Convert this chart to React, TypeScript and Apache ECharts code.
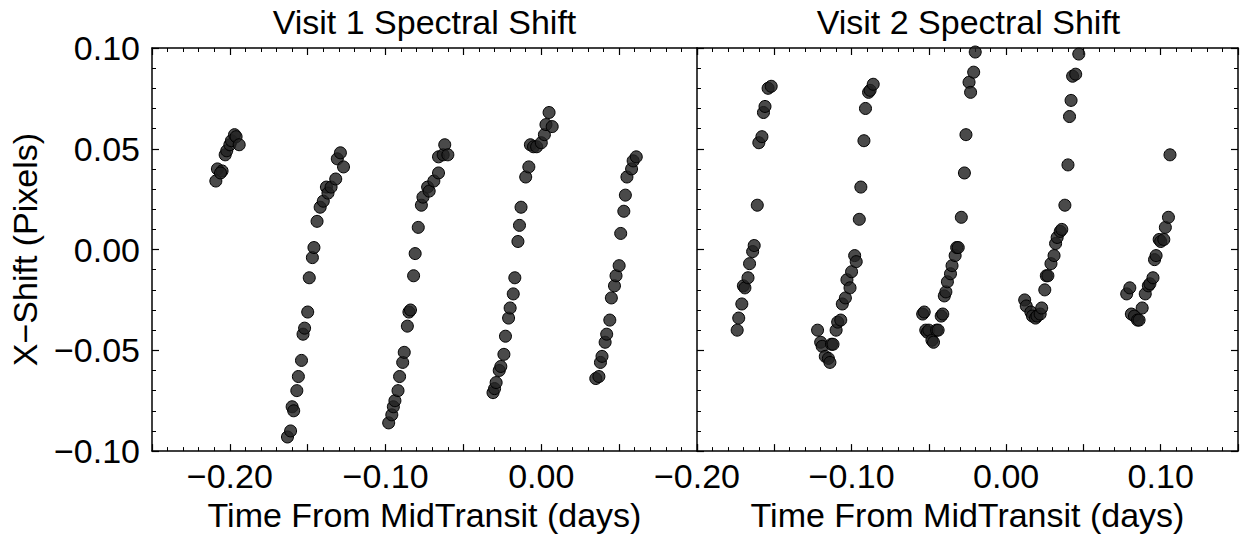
import React, { useEffect, useRef } from "react";
import * as echarts from "echarts";

// Visit 1: time from mid-transit (days) and X-shift (pixels)
const visit1Time = [
  -0.209, -0.208, -0.205, -0.206, -0.203, -0.202, -0.2, -0.199, -0.197, -0.196, -0.194,
  -0.163, -0.161, -0.16, -0.159, -0.157, -0.156, -0.154, -0.153, -0.152, -0.15, -0.149, -0.147,
  -0.146, -0.144, -0.142, -0.14, -0.138, -0.137, -0.135, -0.132, -0.131, -0.129, -0.127,
  -0.098, -0.096, -0.095, -0.094, -0.092, -0.091, -0.089, -0.088, -0.086, -0.085, -0.084, -0.082,
  -0.081, -0.079, -0.077, -0.076, -0.073, -0.072, -0.069, -0.066, -0.066, -0.063, -0.062, -0.06,
  -0.031, -0.03, -0.029, -0.027, -0.026, -0.024, -0.023, -0.021, -0.02, -0.018, -0.017, -0.015,
  -0.014, -0.013, -0.01, -0.008, -0.007, -0.005, -0.003, 0.0, 0.002, 0.003, 0.005, 0.007,
  0.035, 0.037, 0.038, 0.039, 0.041, 0.042, 0.044, 0.045, 0.047, 0.048, 0.05, 0.051, 0.053,
  0.054, 0.055, 0.058, 0.059, 0.061,
];
const visit1Shift = [
  0.034, 0.04, 0.039, 0.038, 0.047, 0.049, 0.052, 0.054, 0.057, 0.056, 0.052,
  -0.093, -0.09, -0.078, -0.08, -0.07, -0.063, -0.055, -0.042, -0.039, -0.031, -0.014, -0.004,
  0.001, 0.014, 0.021, 0.024, 0.031, 0.028, 0.031, 0.035, 0.045, 0.048, 0.041,
  -0.086, -0.082, -0.078, -0.075, -0.07, -0.063, -0.056, -0.051, -0.038, -0.031, -0.03, -0.013,
  -0.002, 0.011, 0.022, 0.026, 0.031, 0.029, 0.034, 0.038, 0.046, 0.047, 0.052, 0.047,
  -0.071, -0.069, -0.066, -0.06, -0.058, -0.052, -0.043, -0.034, -0.029, -0.022, -0.014, 0.004,
  0.012, 0.021, 0.036, 0.041, 0.052, 0.051, 0.051, 0.053, 0.057, 0.062, 0.068, 0.061,
  -0.064, -0.063, -0.056, -0.053, -0.046, -0.042, -0.035, -0.024, -0.018, -0.013, -0.008, 0.008, 0.019,
  0.027, 0.036, 0.04, 0.044, 0.046,
];

// Visit 2
const visit2Time = [
  -0.174, -0.173, -0.171, -0.17, -0.169, -0.167, -0.166, -0.164, -0.163, -0.161, -0.16, -0.158,
  -0.157, -0.156, -0.154, -0.152,
  -0.122, -0.12, -0.119, -0.117, -0.115, -0.114, -0.113, -0.112, -0.11, -0.109, -0.107, -0.106,
  -0.104, -0.103, -0.101, -0.1, -0.098, -0.097, -0.095, -0.094, -0.092, -0.091, -0.089, -0.088, -0.086,
  -0.054, -0.053, -0.052, -0.051, -0.05, -0.048, -0.047, -0.045, -0.044, -0.042, -0.041, -0.04,
  -0.039, -0.038, -0.036, -0.035, -0.033, -0.032, -0.031, -0.029, -0.027, -0.026, -0.024, -0.023,
  -0.021, -0.02,
  0.012, 0.013, 0.016, 0.017, 0.019, 0.02, 0.022, 0.023, 0.025, 0.026, 0.027, 0.029, 0.031, 0.032,
  0.033, 0.035, 0.036, 0.038, 0.04, 0.041, 0.042, 0.043, 0.045, 0.047,
  0.078, 0.08, 0.081, 0.083, 0.085, 0.086, 0.088, 0.09, 0.092, 0.093, 0.095, 0.096, 0.097, 0.099,
  0.1, 0.102, 0.103, 0.105, 0.106,
];
const visit2Shift = [
  -0.04, -0.034, -0.027, -0.018, -0.019, -0.014, -0.007, -0.001, 0.002, 0.022, 0.053, 0.056,
  0.068, 0.071, 0.08, 0.081,
  -0.04, -0.046, -0.048, -0.053, -0.054, -0.056, -0.047, -0.047, -0.04, -0.036, -0.035, -0.027,
  -0.024, -0.015, -0.019, -0.011, -0.003, -0.006, 0.015, 0.031, 0.054, 0.07, 0.078, 0.079, 0.082,
  -0.032, -0.031, -0.04, -0.041, -0.04, -0.045, -0.046, -0.04, -0.04, -0.033, -0.032, -0.023,
  -0.021, -0.016, -0.012, -0.008, -0.003, 0.001, 0.001, 0.016, 0.038, 0.057, 0.083, 0.078,
  0.088, 0.098,
  -0.025, -0.028, -0.031, -0.033, -0.034, -0.033, -0.032, -0.029, -0.02, -0.013, -0.013, -0.007, -0.003, 0.003,
  0.006, 0.009, 0.01, 0.022, 0.042, 0.066, 0.074, 0.086, 0.087, 0.097,
  -0.022, -0.019, -0.032, -0.033, -0.035, -0.035, -0.029, -0.022, -0.018, -0.017, -0.014, -0.005, -0.003, 0.005,
  0.004, 0.005, 0.011, 0.016, 0.047,
];

const panelTitles = ["Visit 1 Spectral Shift", "Visit 2 Spectral Shift"];
const xAxisTitle = "Time From MidTransit (days)";
const yAxisTitle = "X\u2212Shift (Pixels)";
const visit1Range = [-0.25, 0.1];
const visit2Range = [-0.2, 0.15];
const shiftRange = [-0.1, 0.1];

const FONT = "'Liberation Sans', Arial, Helvetica, sans-serif";

function fmt(v: number): string {
  const r = Math.round(v * 100) / 100;
  const s = Math.abs(r).toFixed(2);
  return r < 0 ? "\u2212" + s : s;
}

export default function App() {
  const ref = useRef<HTMLDivElement>(null);

  useEffect(() => {
    if (!ref.current) return;
    const chart = echarts.init(ref.current, undefined, { renderer: "svg" });

    const grids = [
      { left: 152, top: 48, width: 545, height: 409 },
      { left: 697, top: 48, width: 543, height: 409 },
    ];

    const lineStyle = { color: "#000", width: 1.5 };
    const tick = { show: true, inside: true, length: 7, lineStyle: { color: "#000", width: 1.2 } };
    const minorTick = { show: true, splitNumber: 5, length: 4, lineStyle: { color: "#000", width: 1 } };
    const labelFont = { fontSize: 34, fontFamily: FONT, color: "#000" };

    const mkX = (gridIndex: number, range: number[], position: string, showLabels: boolean, hideMax: boolean) => ({
      type: "value",
      gridIndex,
      position,
      min: range[0],
      max: range[1],
      interval: 0.05,
      axisLine: { show: true, onZero: false, lineStyle },
      axisTick: tick,
      minorTick,
      splitLine: { show: false },
      axisLabel: {
        show: showLabels,
        margin: 8,
        ...labelFont,
        showMaxLabel: !hideMax,
        formatter: (v: number) => {
          const k = Math.round(v * 100);
          if (Math.abs(k) % 10 !== 0) return "";
          if (hideMax && Math.abs(v - range[1]) < 1e-9) return "";
          return fmt(v);
        },
      },
      name: showLabels ? xAxisTitle : "",
      nameLocation: "middle",
      nameGap: 43,
      nameTextStyle: { fontSize: 34, fontFamily: FONT, color: "#000" },
    });

    const mkY = (gridIndex: number, position: string, showLabels: boolean) => ({
      type: "value",
      gridIndex,
      position,
      min: shiftRange[0],
      max: shiftRange[1],
      interval: 0.05,
      axisLine: { show: true, onZero: false, lineStyle },
      axisTick: tick,
      minorTick,
      splitLine: { show: false },
      axisLabel: {
        show: showLabels,
        margin: 12,
        ...labelFont,
        formatter: (v: number) => fmt(v),
      },
      name: showLabels ? yAxisTitle : "",
      nameLocation: "middle",
      nameGap: 110,
      nameTextStyle: { fontSize: 34, fontFamily: FONT, color: "#000" },
    });

    const zip = (a: number[], b: number[]) => a.map((t, i) => [t, b[i]]);

    const marker = {
      type: "scatter",
      symbol: "circle",
      symbolSize: 12,
      itemStyle: { color: "rgba(34,34,34,0.82)", borderColor: "#000", borderWidth: 1, opacity: 1 },
      emphasis: { disabled: true },
    };

    chart.setOption({
      animation: false,
      backgroundColor: "#fff",
      grid: grids,
      xAxis: [
        mkX(0, visit1Range, "bottom", true, true),
        mkX(0, visit1Range, "top", false, false),
        mkX(1, visit2Range, "bottom", true, false),
        mkX(1, visit2Range, "top", false, false),
      ],
      yAxis: [mkY(0, "left", true), mkY(1, "left", false), mkY(1, "right", false)],
      series: [
        { ...marker, name: "Visit 1", xAxisIndex: 0, yAxisIndex: 0, data: zip(visit1Time, visit1Shift) },
        { ...marker, name: "Visit 2", xAxisIndex: 2, yAxisIndex: 1, data: zip(visit2Time, visit2Shift) },
      ],
      graphic: [
        {
          type: "text",
          x: 424.5,
          y: 22,
          style: { text: panelTitles[0], fontSize: 34, fontFamily: FONT, fill: "#000", textAlign: "center", textVerticalAlign: "middle" },
        },
        {
          type: "text",
          x: 968.5,
          y: 22,
          style: { text: panelTitles[1], fontSize: 34, fontFamily: FONT, fill: "#000", textAlign: "center", textVerticalAlign: "middle" },
        },
      ],
    });

    return () => chart.dispose();
  }, []);

  return (
    <div
      ref={ref}
      style={{ position: "fixed", left: 0, top: 0, width: 1241, height: 537, background: "#fff" }}
    />
  );
}
